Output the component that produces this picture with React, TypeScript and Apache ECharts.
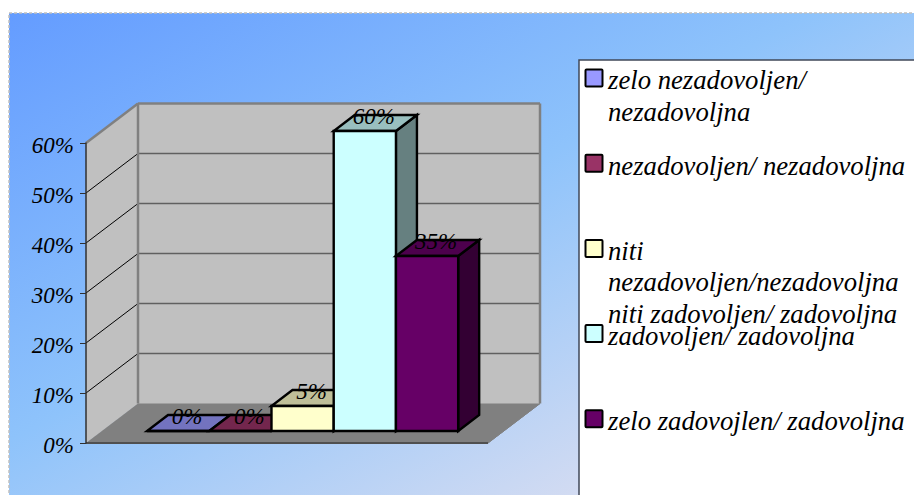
import React, { useEffect, useRef } from "react";
import * as echarts from "echarts";

// Satisfaction survey shares, one column per answer.
const answerNames = [
  "zelo nezadovoljen/\nnezadovoljna",
  "nezadovoljen/ nezadovoljna",
  "niti\nnezadovoljen/nezadovoljna\nniti zadovoljen/ zadovoljna",
  "zadovoljen/ zadovoljna",
  "zelo zadovojlen/ zadovoljna",
];
const answerValues = [0, 0, 5, 60, 35];
const valueTicks = [0, 10, 20, 30, 40, 50, 60];

const frontColors = ["#9999FF", "#993366", "#FFFFCC", "#CCFFFF", "#660066"];
const topColors = ["#7373BF", "#73264D", "#BFBF99", "#99BFBF", "#4D004D"];
const sideColors = ["#666680", "#4D1A33", "#808066", "#668080", "#330033"];

const FONT_FAMILY = '"Liberation Serif", "Times New Roman", serif';
const LABEL_FONT = `italic 23px ${FONT_FAMILY}`;
const LEGEND_FONT = `italic 26.7px ${FONT_FAMILY}`;

// Oblique projection used for the fake 3D box, in screen pixels.
const BOX_DX = 52;
const BOX_DY = -39.5;
const PLANE_DX = 15.6;
const PLANE_DY = -12;
const BAR_DX = 21;
const BAR_DY = -16;

const X_MIN = -0.73;
const X_MAX = 5.73;

const poly = (points: number[][], fill: string, stroke: string, lineWidth: number) => ({
  type: "polygon",
  shape: { points },
  style: { fill, stroke, lineWidth, lineJoin: "miter" },
});

const seg = (a: number[], b: number[], stroke: string, lineWidth: number) => ({
  type: "line",
  shape: { x1: a[0], y1: a[1], x2: b[0], y2: b[1] },
  style: { stroke, lineWidth },
});

// Floor, side wall, back wall and the gridlines that run across them.
function renderBox(_: any, api: any) {
  const yMax = valueTicks[valueTicks.length - 1];
  const fl = api.coord([X_MIN, 0]);
  const fr = api.coord([X_MAX, 0]);
  const tl = api.coord([X_MIN, yMax]);
  const back = (p: number[]) => [p[0] + BOX_DX, p[1] + BOX_DY];
  const children: any[] = [
    poly([fl, back(fl), back(fr), fr], "#808080", "#808080", 1),
    poly([fl, tl, back(tl), back(fl)], "#C0C0C0", "none", 0),
    poly([back(fl), back(tl), back(api.coord([X_MAX, yMax])), back(fr)], "#C0C0C0", "none", 0),
  ];
  valueTicks.slice(1, -1).forEach((t) => {
    const a = api.coord([X_MIN, t]);
    const b = api.coord([X_MAX, t]);
    children.push(seg(a, back(a), "#000000", 1));
    children.push(seg(back(a), back(b), "#606060", 1.5));
  });
  const trb = back(api.coord([X_MAX, yMax]));
  const tlb = back(tl);
  children.push(seg(tl, tlb, "#808080", 2.5));
  children.push(seg(tlb, trb, "#808080", 2.5));
  children.push(seg(tlb, back(fl), "#808080", 2.5));
  children.push(seg(trb, back(fr), "#808080", 2.5));
  children.push(seg(fr, back(fr), "#808080", 1));
  children.push(seg(fl, fr, "#505050", 2));
  return { type: "group", children };
}

// One oblique column: front, top and side faces plus its value label.
function renderColumn(colorIndex: number) {
  return (_: any, api: any) => {
    const i = api.value(0);
    const v = api.value(1);
    const shift = (p: number[], dx: number, dy: number) => [p[0] + dx, p[1] + dy];
    const bl = shift(api.coord([i, 0]), PLANE_DX, PLANE_DY);
    const br = shift(api.coord([i + 1, 0]), PLANE_DX, PLANE_DY);
    const tl = shift(api.coord([i, v]), PLANE_DX, PLANE_DY);
    const tr = shift(api.coord([i + 1, v]), PLANE_DX, PLANE_DY);
    const bk = (p: number[]) => shift(p, BAR_DX, BAR_DY);
    return {
      type: "group",
      children: [
        poly([br, bk(br), bk(tr), tr], sideColors[colorIndex], "#000000", 2.4),
        poly([tl, tr, bk(tr), bk(tl)], topColors[colorIndex], "#000000", 2.4),
        poly([bl, br, tr, tl], frontColors[colorIndex], "#000000", 2.4),
        {
          type: "text",
          z2: 10,
          style: {
            x: (tl[0] + tr[0]) / 2 + 9,
            y: tl[1] + BAR_DY + 1,
            text: `${v}%`,
            font: LABEL_FONT,
            fill: "#000000",
            align: "center",
            verticalAlign: "middle",
          },
        },
      ],
    };
  };
}

const LEGEND_LEFT = 579;
const LEGEND_TOP = 60;
const LEGEND_STEP = 85.2;

function legendGraphics() {
  const out: any[] = [
    {
      type: "rect",
      shape: { x: LEGEND_LEFT, y: LEGEND_TOP, width: 340, height: 440 },
      style: { fill: "#FFFFFF", stroke: "#404858", lineWidth: 1.5 },
      z: 1,
    },
  ];
  answerNames.forEach((name, i) => {
    const top = 69.5 + i * LEGEND_STEP;
    out.push({
      type: "rect",
      shape: { x: 585.5, y: top, width: 17, height: 17, r: 1 },
      style: { fill: frontColors[i], stroke: "#000000", lineWidth: 2 },
      z: 2,
    });
    out.push({
      type: "text",
      x: 608,
      y: top - 5,
      style: {
        text: name,
        font: LEGEND_FONT,
        fill: "#000000",
        lineHeight: 31.7,
        align: "left",
        verticalAlign: "top",
      },
      z: 3,
    });
  });
  return out;
}

export default function App() {
  const ref = useRef<HTMLDivElement>(null);
  useEffect(() => {
    const chart = echarts.init(ref.current!, undefined, { renderer: "svg" });
    chart.setOption({
      animation: false,
      backgroundColor: "#FFFFFF",
      grid: { left: 86, right: 426, top: 143, bottom: 52 },
      xAxis: { type: "value", min: X_MIN, max: X_MAX, show: false },
      yAxis: {
        type: "value",
        min: 0,
        max: 60,
        interval: 10,
        z: 4,
        axisLine: { show: true, onZero: false, lineStyle: { color: "#303030", width: 1.5 } },
        axisTick: { show: true, length: 6, lineStyle: { color: "#303030", width: 1 } },
        splitLine: { show: false },
        axisLabel: {
          formatter: "{value}%",
          margin: 12,
          verticalAlign: "top",
          lineHeight: 4,
          color: "#000000",
          fontFamily: FONT_FAMILY,
          fontStyle: "italic",
          fontSize: 23,
        },
      },
      graphic: [
        {
          type: "rect",
          shape: { x: 9, y: 13, width: 920, height: 500 },
          style: {
            fill: new echarts.graphic.LinearGradient(
              9,
              13,
              363,
              680,
              [
                { offset: 0, color: "#649CFF" },
                { offset: 0.5, color: "#8EC3FB" },
                { offset: 1, color: "#E0E0F0" },
              ],
              true
            ),
            stroke: "#C0C0C0",
            lineWidth: 1.5,
            lineDash: [3, 2],
          },
          z: -10,
        },
        ...legendGraphics(),
      ],
      series: [
        {
          type: "custom",
          name: "box",
          z: -1,
          silent: true,
          coordinateSystem: "cartesian2d",
          data: [[0, 0]],
          renderItem: renderBox,
        },
        ...answerValues.map((v, i) => ({
          type: "custom",
          name: answerNames[i],
          z: 5 + i,
          coordinateSystem: "cartesian2d",
          data: [[i, v]],
          encode: { x: 0, y: 1 },
          renderItem: renderColumn(i),
        })),
      ],
    });
    return () => chart.dispose();
  }, []);
  return <div ref={ref} style={{ position: "fixed", left: 0, top: 0, width: 914, height: 495 }} />;
}
